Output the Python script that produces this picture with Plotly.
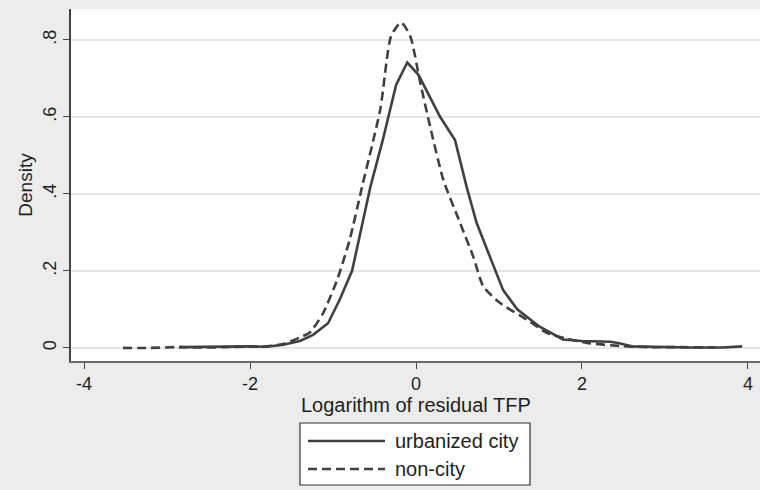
import plotly.graph_objects as go

# ---- data ----
urban_x = [-2.85, -2.5, -2.2, -2.0, -1.8, -1.6, -1.4, -1.24, -1.06, -0.92, -0.77, -0.64,
           -0.55, -0.4, -0.24, -0.105, 0.03, 0.29, 0.47, 0.61, 0.73, 0.89, 1.05, 1.22,
           1.49, 1.77, 2.0, 2.34, 2.45, 2.6, 2.9, 3.3, 3.7, 3.93]
urban_y = [0.002, 0.003, 0.002, 0.004, 0.003, 0.008, 0.018, 0.034, 0.064, 0.125, 0.2, 0.325,
           0.418, 0.54, 0.683, 0.741, 0.709, 0.60, 0.54, 0.418, 0.325, 0.237, 0.15, 0.10,
           0.055, 0.022, 0.018, 0.016, 0.012, 0.004, 0.002, 0.001, 0.001, 0.004]

noncity_x = [-3.53, -3.2, -2.9, -2.5, -2.1, -1.8, -1.6, -1.4, -1.28, -1.12, -0.95, -0.80,
             -0.65, -0.43, -0.30, -0.18, -0.07, 0.05, 0.17, 0.33, 0.53, 0.69, 0.81, 1.01,
             1.34, 1.57, 1.8, 2.06, 2.46, 2.8, 3.2, 3.6]
noncity_y = [0.0, 0.0, 0.002, 0.001, 0.003, 0.004, 0.01, 0.027, 0.04, 0.09, 0.177, 0.28,
             0.418, 0.62, 0.81, 0.845, 0.81, 0.69, 0.575, 0.436, 0.325, 0.237, 0.16, 0.117,
             0.073, 0.04, 0.025, 0.013, 0.005, 0.002, 0.002, 0.001]

series_names = ["urbanized city", "non-city"]
x_ticks = [-4, -2, 0, 2, 4]
y_ticks = [0, 0.2, 0.4, 0.6, 0.8]
y_tick_labels = ["0", ".2", ".4", ".6", ".8"]
x_title = "Logarithm of residual TFP"
y_title = "Density"

# ---- layout constants ----
W, H = 760, 490
ML, MR, MT, MB = 71, 0, 9, 129
PW, PH = W - ML - MR, H - MT - MB
LINE_COLOR = "#404040"
TEXT_COLOR = "#1e1e1e"
FONT = "Liberation Sans, Arial, sans-serif"
FS_TICK = 18
FS = 19
FS_BIG = 20


def px_x(p):
    return (p - ML) / PW


def px_y(p):
    return (H - MB - p) / PH


fig = go.Figure()
fig.add_trace(go.Scatter(x=urban_x, y=urban_y, mode="lines", name=series_names[0],
                         line=dict(color=LINE_COLOR, width=2.6), showlegend=False))
fig.add_trace(go.Scatter(x=noncity_x, y=noncity_y, mode="lines", name=series_names[1],
                         line=dict(color=LINE_COLOR, width=2.6, dash="9px,5px",
                                   shape="spline", smoothing=0.6),
                         showlegend=False))

fig.update_layout(
    width=W, height=H,
    margin=dict(l=ML, r=MR, t=MT, b=MB, pad=0, autoexpand=False),
    paper_bgcolor="#ECECEC",
    plot_bgcolor="white",
    font=dict(family=FONT, size=FS, color=TEXT_COLOR),
    xaxis=dict(range=[-4.157, 4.145], tickvals=x_ticks, ticktext=[str(v) for v in x_ticks],
               showgrid=False, zeroline=False, showline=True, linecolor="#6a6a6a",
               linewidth=1.5, ticks="outside", ticklen=6, tickcolor="#444444", tickwidth=1.2,
               tickfont=dict(size=FS_TICK), automargin=False),
    yaxis=dict(range=[-0.034, 0.880], tickvals=y_ticks, ticktext=y_tick_labels,
               tickangle=-90, showgrid=True, gridcolor="#E6E6E6", gridwidth=1.6,
               zeroline=False, showline=True, linecolor="#444444", linewidth=1.5,
               ticks="outside", ticklen=6, tickcolor="#444444", tickwidth=1.2,
               tickfont=dict(size=FS_TICK), automargin=False,
               title=dict(text=y_title, font=dict(size=FS), standoff=2)),
)

# x axis title placed as a text annotation just under the tick labels
fig.add_annotation(xref="paper", yref="paper", x=0.5, y=px_y(405), text=x_title,
                   showarrow=False, xanchor="center", yanchor="middle",
                   font=dict(size=FS_BIG, color=TEXT_COLOR))

# ---- legend box drawn below the plot ----
box_x0, box_x1, box_y0, box_y1 = 300, 530, 423, 485
fig.add_shape(type="rect", xref="paper", yref="paper",
              x0=px_x(box_x0), x1=px_x(box_x1), y0=px_y(box_y1), y1=px_y(box_y0),
              line=dict(color="#333333", width=1.2), fillcolor="white", layer="above")
rows = [(441, None), (469, "9px,5px")]
for (ry, dash), name in zip(rows, series_names):
    line_style = dict(color=LINE_COLOR, width=2.6)
    if dash:
        line_style["dash"] = dash
    fig.add_shape(type="line", xref="paper", yref="paper",
                  x0=px_x(308), x1=px_x(385), y0=px_y(ry), y1=px_y(ry), line=line_style)
    fig.add_annotation(xref="paper", yref="paper", x=px_x(393), y=px_y(ry),
                       text=name, showarrow=False, xanchor="left", yanchor="middle",
                       font=dict(size=FS_BIG, color=TEXT_COLOR))

fig.write_html(
    "out.html",
    config={"displayModeBar": False},
    post_script="document.body.style.margin='0';document.body.style.background='#ECECEC';",
)
